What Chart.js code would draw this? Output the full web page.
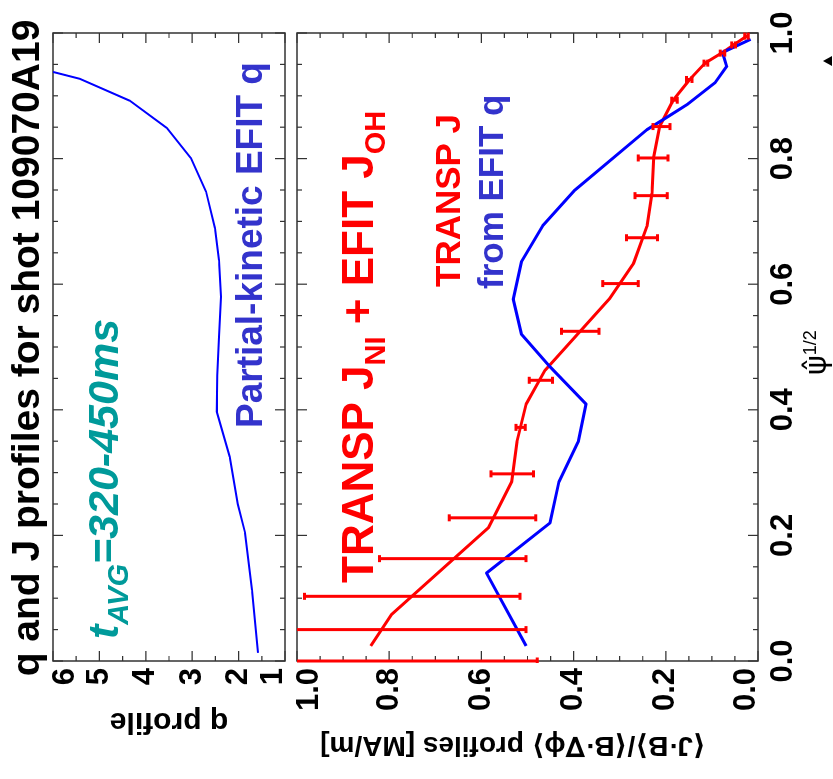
<!DOCTYPE html>
<html>
<head>
<meta charset="utf-8">
<title>q and J profiles</title>
<script src="https://cdn.jsdelivr.net/npm/chart.js@4.4.1/dist/chart.umd.min.js"></script>
<style>
    html, body { margin: 0; padding: 0; background: #fff; overflow: hidden; }
    body { width: 833px; height: 779px; position: relative; }
    /* the figure is laid out upright, then turned a quarter turn counter-clockwise */
    #fig {
        position: absolute; left: 0; top: 0; width: 779px; height: 833px;
        transform-origin: 0 0;
        transform: translate(0, 779px) rotate(-90deg);
    }
    #qChart { position: absolute; left: 0; top: 0; }
    #jChart { position: absolute; left: 0; top: 291px; }
</style>
</head>
<body>
<div id="fig">
    <canvas id="qChart" width="779" height="291"></canvas>
    <canvas id="jChart" width="779" height="542"></canvas>
</div>
<script>
// ---- values ----
const psiTicks = [0, 0.2, 0.4, 0.6, 0.8, 1.0];
const psiTickLabels = ['0.0', '0.2', '0.4', '0.6', '0.8', '1.0'];
const qTicks = [1, 2, 3, 4, 5, 6];
const qTickLabels = ['1', '2', '3', '4', '5', '6'];
const jTicks = [0, 0.2, 0.4, 0.6, 0.8, 1.0];
const jTickLabels = ['0.0', '0.2', '0.4', '0.6', '0.8', '1.0'];

// partial-kinetic EFIT q
const qPsi = [0.013, 0.113, 0.204, 0.250, 0.325, 0.397, 0.455, 0.516, 0.580, 0.638, 0.689, 0.747, 0.801, 0.849, 0.892, 0.927, 0.938];
const qVal = [1.58, 1.71, 1.86, 2.02, 2.19, 2.47, 2.46, 2.42, 2.38, 2.42, 2.51, 2.70, 3.03, 3.55, 4.34, 5.42, 6.00];

// J from EFIT q (blue)
const efitPsi = [0.024, 0.140, 0.220, 0.285, 0.349, 0.409, 0.470, 0.520, 0.576, 0.636, 0.693, 0.750, 0.846, 0.867, 0.887, 0.921, 0.947, 0.969, 0.990];
const efitJ = [0.503, 0.589, 0.451, 0.432, 0.390, 0.373, 0.453, 0.513, 0.531, 0.513, 0.467, 0.397, 0.241, 0.195, 0.152, 0.093, 0.068, 0.077, 0.016];

// TRANSP J_NI + EFIT J_OH (red)
const transpPsi = [0.024, 0.074, 0.212, 0.286, 0.349, 0.409, 0.463, 0.578, 0.633, 0.692, 0.745, 0.803, 0.852, 0.893, 0.926, 0.952, 0.969, 0.981, 0.995];
const transpJ = [0.840, 0.795, 0.585, 0.534, 0.523, 0.503, 0.462, 0.321, 0.270, 0.241, 0.230, 0.226, 0.213, 0.184, 0.148, 0.115, 0.077, 0.053, 0.025];

// error bars on the red curve
const errPsi = [0.000, 0.050, 0.103, 0.163, 0.228, 0.298, 0.372, 0.447, 0.525, 0.601, 0.674, 0.741, 0.801, 0.851, 0.893, 0.926, 0.952, 0.968, 0.981, 0.995];
const errLo = [0.479, 0.503, 0.516, 0.503, 0.482, 0.487, 0.505, 0.446, 0.345, 0.260, 0.218, 0.197, 0.195, 0.191, 0.175, 0.143, 0.109, 0.072, 0.049, 0.021];
const errHi = [1.240, 1.130, 0.984, 0.821, 0.670, 0.579, 0.525, 0.496, 0.426, 0.337, 0.285, 0.267, 0.260, 0.228, 0.187, 0.155, 0.117, 0.082, 0.057, 0.029];

const FONT = '"Liberation Sans", Arial, Helvetica, sans-serif';
const RED = '#ff0000';
const BLUE = '#0000ff';

function points(xs, ys) {
    return xs.map((x, i) => ({ x: x, y: ys[i] }));
}

function steps(min, max, step) {
    const out = [];
    const n = Math.round((max - min) / step);
    for (let i = 0; i <= n; i++) out.push(min + i * step);
    return out;
}

function isMajor(v, majors) {
    return majors.some(m => Math.abs(m - v) < 1e-6);
}

// box round the plot with inward ticks on all four sides
function frameTicks(xMinor, xMajor, yMinor, yMajor) {
    return {
        id: 'frameTicks',
        beforeDatasetsDraw(chart) {
            const { ctx, chartArea: a } = chart;
            const xs = chart.scales.x, ys = chart.scales.y;
            ctx.save();
            ctx.strokeStyle = '#333';
            ctx.lineWidth = 1.2;
            ctx.beginPath();
            xMinor.forEach(v => {
                const p = xs.getPixelForValue(v);
                const len = isMajor(v, xMajor) ? 10 : 5;
                ctx.moveTo(p, a.top); ctx.lineTo(p, a.top + len);
                ctx.moveTo(p, a.bottom); ctx.lineTo(p, a.bottom - len);
            });
            yMinor.forEach(v => {
                const p = ys.getPixelForValue(v);
                const len = isMajor(v, yMajor) ? 10 : 5;
                ctx.moveTo(a.left, p); ctx.lineTo(a.left + len, p);
                ctx.moveTo(a.right, p); ctx.lineTo(a.right - len, p);
            });
            ctx.stroke();
            ctx.lineWidth = 1.5;
            ctx.strokeRect(a.left, a.top, a.right - a.left, a.bottom - a.top);
            ctx.restore();
        }
    };
}

// y tick labels; the end ones are pushed inside the panel like the original
function yLabels(ticks, labels, font) {
    return {
        id: 'yLabels',
        afterDraw(chart) {
            const { ctx, chartArea: a } = chart;
            const ys = chart.scales.y;
            const lo = Math.min(...ticks), hi = Math.max(...ticks);
            ctx.save();
            ctx.font = font;
            ctx.fillStyle = '#000';
            ctx.textAlign = 'right';
            ticks.forEach((t, i) => {
                let p = ys.getPixelForValue(t);
                ctx.textBaseline = 'middle';
                if (t === hi) { ctx.textBaseline = 'top'; p = a.top - 3; }
                if (t === lo) { ctx.textBaseline = 'bottom'; p = a.bottom + 4; }
                ctx.fillText(labels[i], a.left - 7, p);
            });
            ctx.restore();
        }
    };
}

function runs(ctx, x, y, parts) {
    parts.forEach(p => {
        ctx.font = p.font;
        ctx.fillStyle = p.color;
        ctx.fillText(p.text, x, y + (p.dy || 0));
        x += ctx.measureText(p.text).width;
    });
}

function vText(ctx, text, x, y, font) {
    ctx.save();
    ctx.translate(x, y);
    ctx.rotate(-Math.PI / 2);
    ctx.font = font;
    ctx.fillStyle = '#000';
    ctx.textAlign = 'center';
    ctx.textBaseline = 'middle';
    ctx.fillText(text, 0, 0);
    ctx.restore();
}

const qText = {
    id: 'qText',
    afterDraw(chart) {
        const ctx = chart.ctx;
        ctx.save();
        ctx.textBaseline = 'alphabetic';
        ctx.textAlign = 'center';
        ctx.font = 'bold 39px ' + FONT;
        ctx.fillStyle = '#000';
        ctx.fillText('q and J profiles for shot 109070A19', 431, 39);
        ctx.textAlign = 'left';
        const teal = '#009a9a';
        runs(ctx, 140, 118, [
            { text: 't', font: 'italic bold 43px ' + FONT, color: teal },
            { text: 'AVG', font: 'italic bold 29px ' + FONT, color: teal, dy: 10 },
            { text: '=320-450ms', font: 'italic bold 43px ' + FONT, color: teal }
        ]);
        runs(ctx, 351, 262, [
            { text: 'Partial-kinetic EFIT q', font: 'bold 37px ' + FONT, color: '#3333cc' }
        ]);
        vText(ctx, 'q profile', 58, 169, 'bold 30px ' + FONT);
        ctx.restore();
    }
};

const errorBars = {
    id: 'errorBars',
    afterDatasetsDraw(chart) {
        const { ctx, chartArea: a } = chart;
        const xs = chart.scales.x, ys = chart.scales.y;
        ctx.save();
        ctx.beginPath();
        ctx.rect(a.left - 2, a.top, a.right - a.left + 4, a.bottom - a.top + 2);
        ctx.clip();
        ctx.strokeStyle = RED;
        ctx.lineWidth = 3;
        ctx.beginPath();
        errPsi.forEach((p, i) => {
            const x = xs.getPixelForValue(p);
            const y1 = ys.getPixelForValue(errLo[i]);
            const y2 = ys.getPixelForValue(errHi[i]);
            ctx.moveTo(x, y1); ctx.lineTo(x, y2);
            ctx.moveTo(x - 3.5, y1); ctx.lineTo(x + 3.5, y1);
            ctx.moveTo(x - 3.5, y2); ctx.lineTo(x + 3.5, y2);
        });
        ctx.stroke();
        ctx.restore();
    }
};

const jText = {
    id: 'jText',
    afterDraw(chart) {
        const ctx = chart.ctx;
        ctx.save();
        ctx.textAlign = 'left';
        ctx.textBaseline = 'alphabetic';
        runs(ctx, 196, 82, [
            { text: 'TRANSP J', font: 'bold 44px ' + FONT, color: RED },
            { text: 'NI', font: 'bold 29px ' + FONT, color: RED, dy: 12 },
            { text: ' + EFIT J', font: 'bold 44px ' + FONT, color: RED },
            { text: 'OH', font: 'bold 29px ' + FONT, color: RED, dy: 12 }
        ]);
        runs(ctx, 492, 169, [{ text: 'TRANSP J', font: 'bold 35px ' + FONT, color: RED }]);
        runs(ctx, 490, 212, [{ text: 'from EFIT q', font: 'bold 35px ' + FONT, color: '#3333cc' }]);

        vText(ctx, '\u27E8J\u00B7B\u27E9/\u27E8B\u00B7\u2207\u03D5\u27E9 profiles [MA/m]', 34, 222,
              'bold 28px ' + FONT + ', "DejaVu Sans"');

        // x-axis title: psi-hat ^ 1/2
        runs(ctx, 404, 535, [
            { text: '\u03C8\u0302', font: '30px "DejaVu Sans"', color: '#000' },
            { text: '1/2', font: '18px ' + FONT, color: '#000', dy: -10 }
        ]);

        // small marker at the right end of the axis
        ctx.fillStyle = '#000';
        ctx.beginPath();
        ctx.moveTo(718, 532);
        ctx.lineTo(713, 541);
        ctx.lineTo(723, 541);
        ctx.closePath();
        ctx.fill();
        ctx.restore();
    }
};

const lineStyle = { pointRadius: 0, tension: 0, fill: false, borderJoinStyle: 'round' };

new Chart(document.getElementById('qChart'), {
    type: 'line',
    data: {
        datasets: [{ ...lineStyle, data: points(qPsi, qVal), borderColor: BLUE, borderWidth: 2 }]
    },
    options: {
        responsive: false,
        animation: false,
        events: [],
        layout: { padding: { left: 118, right: 33, top: 53, bottom: 6 } },
        scales: {
            x: { type: 'linear', min: 0, max: 1, display: false },
            y: { type: 'linear', min: 1, max: 6, display: false }
        },
        plugins: { legend: { display: false }, tooltip: { enabled: false } }
    },
    plugins: [
        frameTicks(steps(0, 1, 0.05), psiTicks, steps(1, 6, 0.5), qTicks),
        yLabels(qTicks, qTickLabels, 'bold 31px ' + FONT),
        qText
    ]
});

new Chart(document.getElementById('jChart'), {
    type: 'line',
    data: {
        datasets: [
            { ...lineStyle, data: points(efitPsi, efitJ), borderColor: BLUE, borderWidth: 3 },
            { ...lineStyle, data: points(transpPsi, transpJ), borderColor: RED, borderWidth: 3 }
        ]
    },
    options: {
        responsive: false,
        animation: false,
        events: [],
        layout: { padding: { left: 118, right: 33, top: 6, bottom: 0 } },
        scales: {
            x: {
                type: 'linear', min: 0, max: 1,
                afterBuildTicks: s => { s.ticks = psiTicks.map(v => ({ value: v })); },
                afterFit: s => { s.height = 75; },
                grid: { display: false, drawTicks: false },
                border: { display: false },
                ticks: {
                    autoSkip: false, maxRotation: 0, minRotation: 0, padding: 7,
                    color: '#000',
                    font: { family: FONT, size: 31, weight: 'bold' },
                    callback: v => psiTickLabels[psiTicks.findIndex(t => Math.abs(t - v) < 1e-6)]
                }
            },
            y: { type: 'linear', min: 0, max: 1, display: false }
        },
        plugins: { legend: { display: false }, tooltip: { enabled: false } }
    },
    plugins: [
        frameTicks(steps(0, 1, 0.05), psiTicks, steps(0, 1, 0.05), jTicks),
        errorBars,
        yLabels(jTicks, jTickLabels, 'bold 31px ' + FONT),
        jText
    ]
});
</script>
</body>
</html>
